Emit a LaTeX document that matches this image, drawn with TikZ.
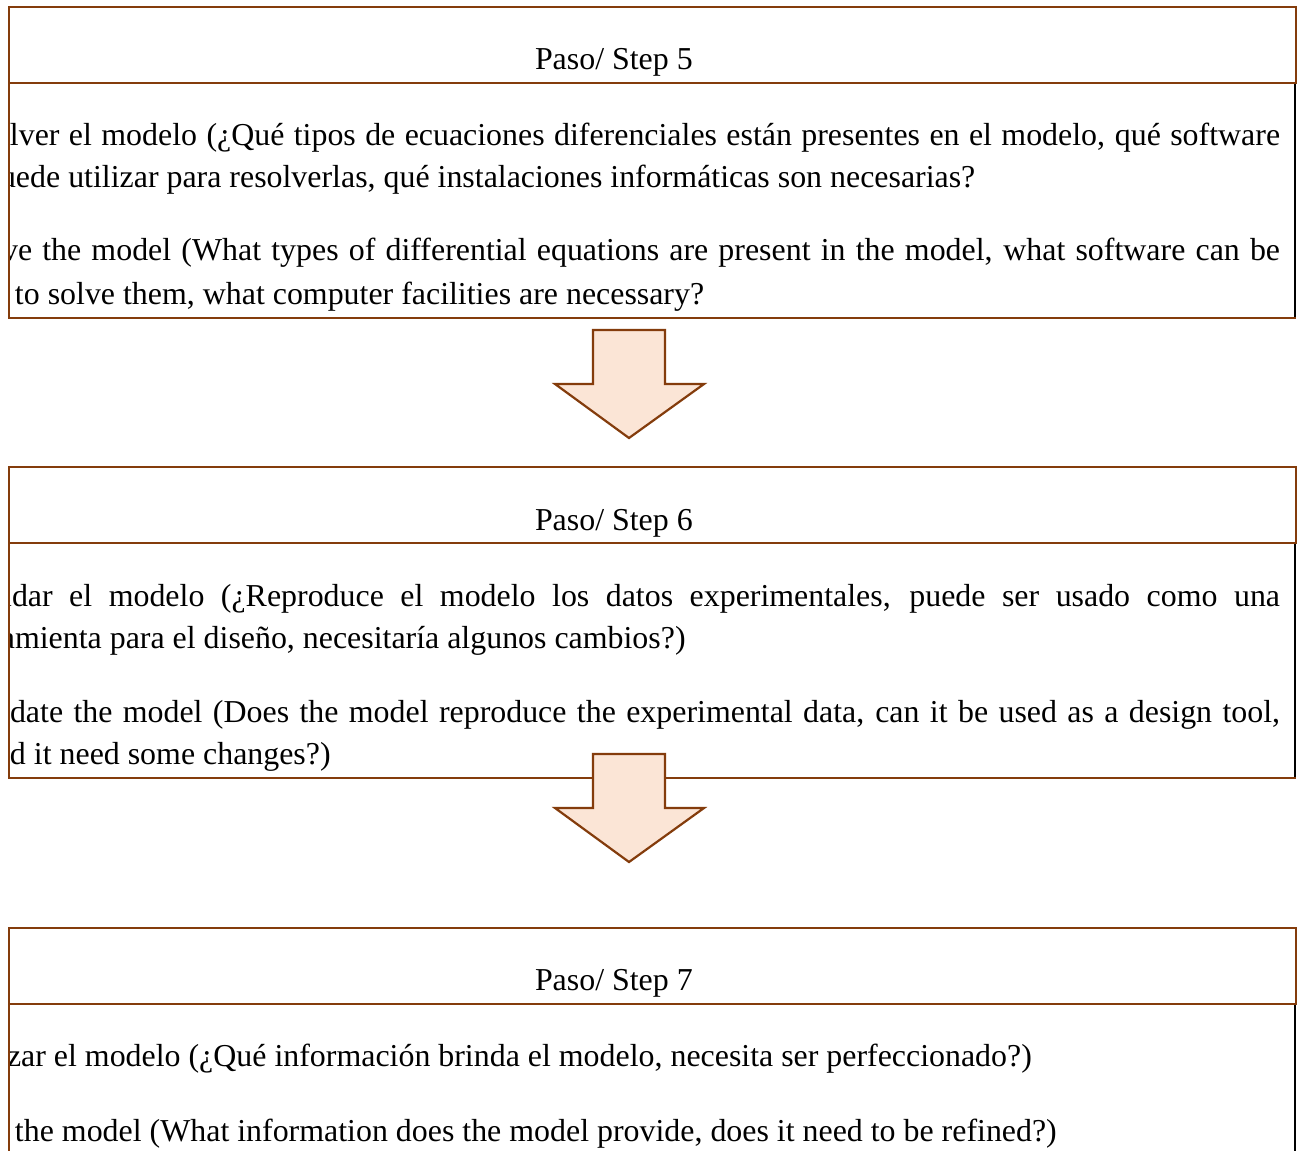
\documentclass[tikz,border=0pt]{standalone}
\usepackage{fontspec}
\setmainfont{Liberation Serif}
\definecolor{framebrown}{HTML}{843C0C}
\definecolor{arrowfill}{HTML}{FBE5D6}

% justified line: x, baseline y, name, clipped lead-in, text
\newcommand\jline[5]{%
  \node[txt] (#3) at (#1,#2) {\makebox[0pt][r]{#4}\makebox[\dimexpr1280pt-#1pt\relax][s]{#5}};}
% ragged (last) line: x, baseline y, name, clipped lead-in, text
\newcommand\pline[5]{%
  \node[txt] (#3) at (#1,#2) {\makebox[0pt][r]{#4}#5};}

\begin{document}
\begin{tikzpicture}[x=1pt,y=-1pt,
  frameline/.style={draw=framebrown, line width=2.2pt},
  rightline/.style={draw=black, line width=2pt},
  txt/.style={anchor=base west, inner sep=0pt, outer sep=0pt,
              font=\fontsize{31.9}{38}\selectfont},
  blockarrow/.style={draw=framebrown, fill=arrowfill, line width=2.2pt, line join=miter}]

\useasboundingbox[fill=white] (0,0) rectangle (1297,1150);

% ---------- Step 5 ----------
\begin{scope}
  \clip (9,83) rectangle (1296,318);
  \jline{10}{146}{s5a}{Reso}{lver el modelo (¿Qué tipos de ecuaciones diferenciales están presentes en el modelo, qué software}
  \pline{16}{188}{s5b}{se pu}{ede utilizar para resolverlas, qué instalaciones informáticas son necesarias?}
  \jline{18}{261}{s5c}{Solv}{e the model (What types of differential equations are present in the model, what software can be}
  \pline{15}{304}{s5d}{used\ }{to solve them, what computer facilities are necessary?}
\end{scope}
\node[txt] (h5) at (535,70) {Paso/ Step 5};
\draw[rightline] (1295,83) -- (1295,318);
\draw[frameline] (9,7) rectangle (1296,83);
\draw[frameline] (9,83) -- (9,318) -- (1296,318);

% ---------- Step 6 ----------
\begin{scope}
  \clip (9,543) rectangle (1296,778);
  \jline{12}{606}{s6a}{Vali}{dar el modelo (¿Reproduce el modelo los datos experimentales, puede ser usado como una}
  \pline{15}{648}{s6b}{herra}{mienta para el diseño, necesitaría algunos cambios?)}
  \jline{10}{722}{s6c}{Vali}{date the model (Does the model reproduce the experimental data, can it be used as a design tool,}
  \pline{10}{764}{s6d}{woul}{d it need some changes?)}
\end{scope}
\node[txt] (h6) at (535,530) {Paso/ Step 6};
\draw[rightline] (1295,543) -- (1295,778);
\draw[frameline] (9,467) rectangle (1296,543);
\draw[frameline] (9,543) -- (9,778) -- (1296,778);

% ---------- Step 7 ----------
\begin{scope}
  \clip (9,1004) rectangle (1296,1160);
  \pline{7}{1066}{s7a}{Anali}{zar el modelo (¿Qué información brinda el modelo, necesita ser perfeccionado?)}
  \pline{15}{1141}{s7b}{Analyze\ }{the model (What information does the model provide, does it need to be refined?)}
\end{scope}
\node[txt] (h7) at (535,990) {Paso/ Step 7};
\draw[rightline] (1295,1004) -- (1295,1160);
\draw[frameline] (9,928) rectangle (1296,1004);
\draw[frameline] (9,1004) -- (9,1160);

% ---------- block arrows between the steps ----------
\foreach \dy in {0,424}{
  \begin{scope}[shift={(0,\dy)}]
    \draw[blockarrow] (593,330) -- (665,330) -- (665,384) -- (704,384)
      -- (629,438) -- (555,384) -- (593,384) -- cycle;
  \end{scope}
}
\end{tikzpicture}
\end{document}
